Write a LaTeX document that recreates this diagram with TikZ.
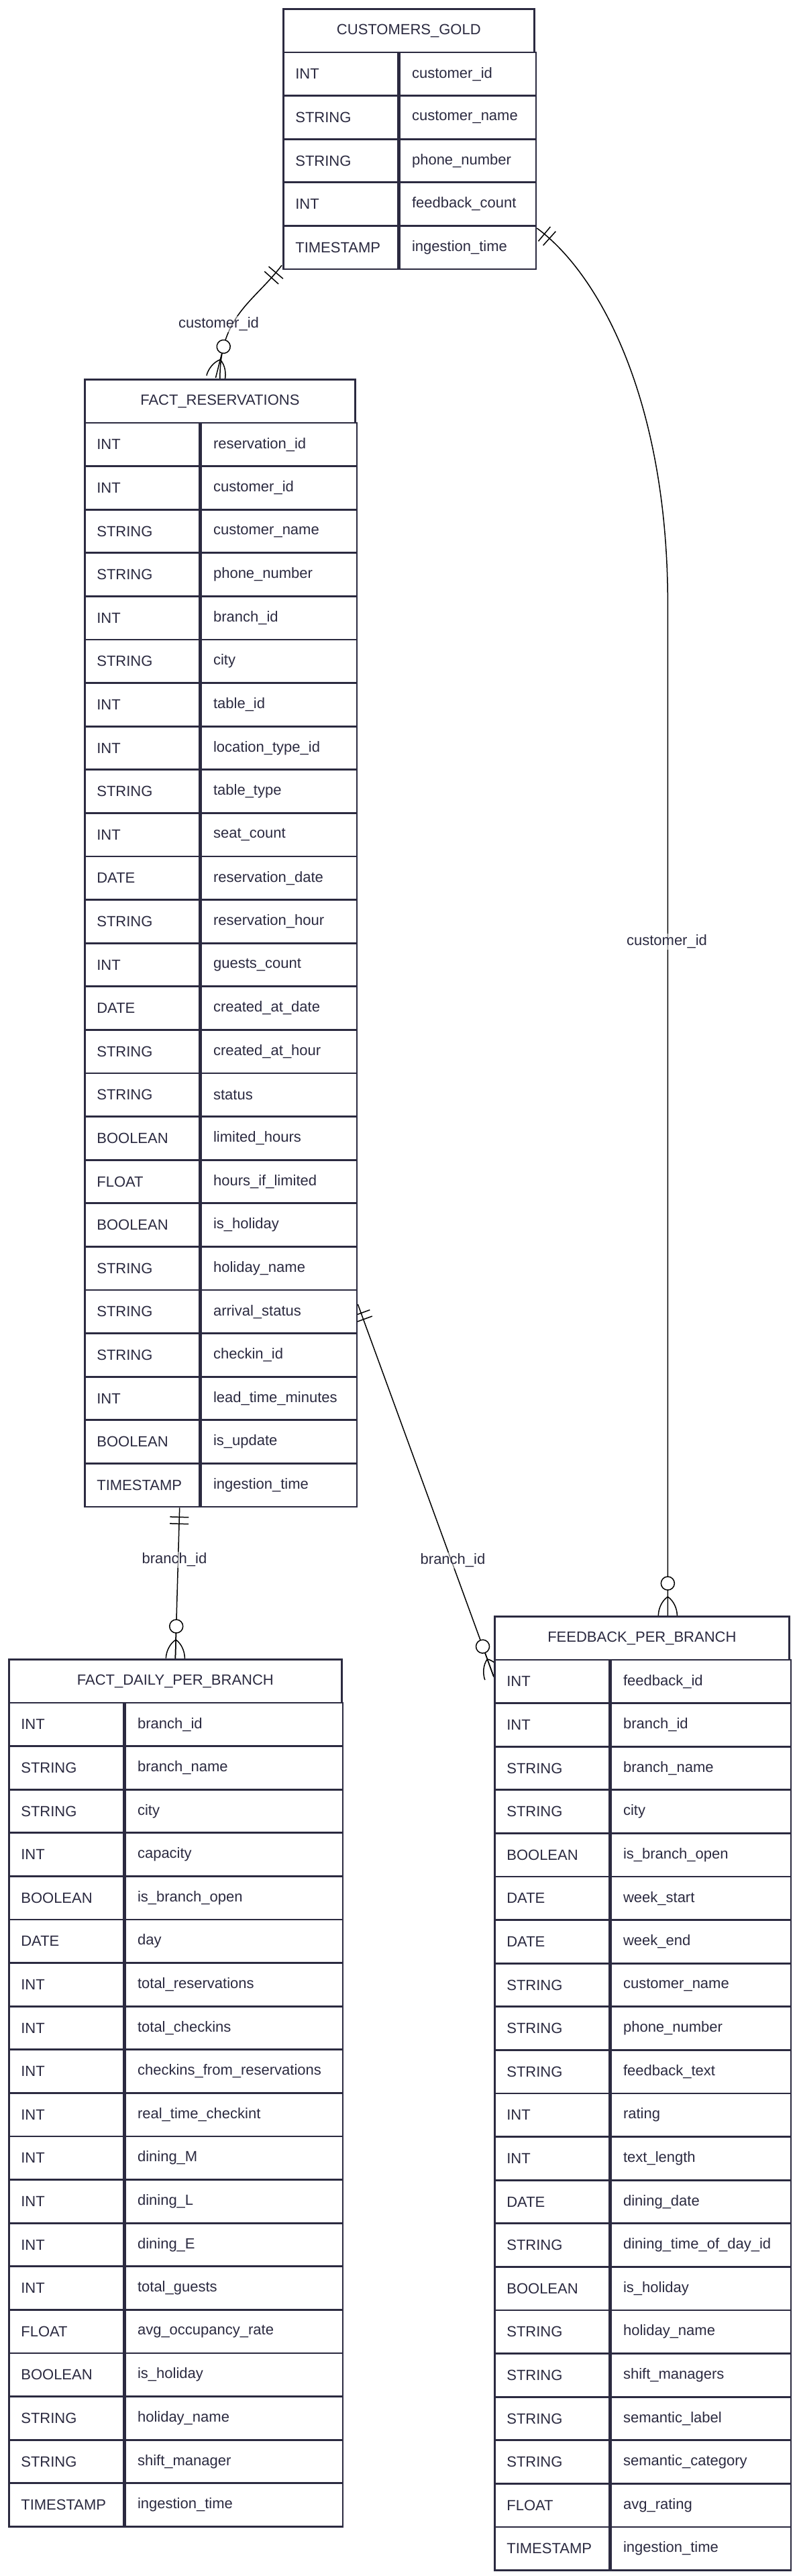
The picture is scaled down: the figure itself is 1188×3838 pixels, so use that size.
\documentclass[tikz,border=0pt]{standalone}
\usepackage{fontspec}
\setmainfont{Liberation Sans}
\usetikzlibrary{positioning, calc, backgrounds, decorations.markings}
\definecolor{erline}{HTML}{2B2A40}
\definecolor{erink}{HTML}{2B2A40}

\begin{document}
\begin{tikzpicture}[
    x=0.5pt, y=-0.5pt,
    font=\fontsize{11pt}{13pt}\selectfont,
    every node/.style={text=erink},
    hdr/.style={draw=erline, line width=1.35pt, fill=white, anchor=north west, minimum height=32.3pt, inner sep=0pt},
    typecell/.style={draw=erline, line width=1.35pt, fill=white, anchor=north west, minimum height=32.3pt, inner xsep=9pt, inner ysep=0pt, text width=67.5pt, align=left},
    namecell/.style={draw=erline, line width=1.35pt, fill=white, minimum height=32.3pt, inner xsep=9pt, inner ysep=0pt, text width=#1, align=left},
    relline/.style={draw=black, line width=0.75pt},
    lbl/.style={fill=white, fill opacity=0.5, text opacity=1, inner sep=1pt},
    onlyone/.style={postaction={decorate, decoration={markings,
        mark=at position 7pt with {\draw[relline] (0,-7pt) -- (0,7pt);},
        mark=at position 12pt with {\draw[relline] (0,-7pt) -- (0,7pt);}}}},
    zeromany/.style={postaction={decorate, decoration={markings,
        mark=at position -24pt with {
          \draw[relline, fill=white] (0,0) circle (5pt);
          \draw[relline] (5pt,0) -- (24pt,0);
          \draw[relline] (10pt,0) .. controls (13pt,4.5pt) and (19pt,7pt) .. (24pt,7pt);
          \draw[relline] (10pt,0) .. controls (13pt,-4.5pt) and (19pt,-7pt) .. (24pt,-7pt);}}}}
]
\useasboundingbox (0,0) rectangle (1188,3838);

\node[hdr, minimum width=187pt] (cg) at (421,12) {CUSTOMERS\_GOLD};
\foreach \ty/\fld [count=\i] in {INT/customer\_id, STRING/customer\_name, STRING/phone\_number,
    INT/feedback\_count, TIMESTAMP/ingestion\_time}{
  \node[typecell] (cg-t\i) at (421,12+\i*64.6) {\ty};
  \node[namecell=83.5pt, right=0pt of cg-t\i] (cg-n\i) {\fld};
}

\node[hdr, minimum width=201.5pt] (fr) at (125,564) {FACT\_RESERVATIONS};
\foreach \ty/\fld [count=\i] in {INT/reservation\_id, INT/customer\_id, STRING/customer\_name,
    STRING/phone\_number, INT/branch\_id, STRING/city, INT/table\_id, INT/location\_type\_id,
    STRING/table\_type, INT/seat\_count, DATE/reservation\_date, STRING/reservation\_hour,
    INT/guests\_count, DATE/created\_at\_date, STRING/created\_at\_hour, STRING/status,
    BOOLEAN/limited\_hours, FLOAT/hours\_if\_limited, BOOLEAN/is\_holiday, STRING/holiday\_name,
    STRING/arrival\_status, STRING/checkin\_id, INT/lead\_time\_minutes, BOOLEAN/is\_update,
    TIMESTAMP/ingestion\_time}{
  \node[typecell] (fr-t\i) at (125,564+\i*64.6) {\ty};
  \node[namecell=98pt, right=0pt of fr-t\i] (fr-n\i) {\fld};
}

\node[hdr, minimum width=248pt] (fd) at (12,2471) {FACT\_DAILY\_PER\_BRANCH};
\foreach \ty/\fld [count=\i] in {INT/branch\_id, STRING/branch\_name, STRING/city, INT/capacity,
    BOOLEAN/is\_branch\_open, DATE/day, INT/total\_reservations, INT/total\_checkins,
    INT/checkins\_from\_reservations, INT/real\_time\_checkint, INT/dining\_M, INT/dining\_L,
    INT/dining\_E, INT/total\_guests, FLOAT/avg\_occupancy\_rate, BOOLEAN/is\_holiday,
    STRING/holiday\_name, STRING/shift\_manager, TIMESTAMP/ingestion\_time}{
  \node[typecell] (fd-t\i) at (12,2471+\i*64.6) {\ty};
  \node[namecell=144pt, right=0pt of fd-t\i] (fd-n\i) {\fld};
}

\node[hdr, minimum width=219.5pt] (fb) at (736,2407) {FEEDBACK\_PER\_BRANCH};
\foreach \ty/\fld [count=\i] in {INT/feedback\_id, INT/branch\_id, STRING/branch\_name, STRING/city,
    BOOLEAN/is\_branch\_open, DATE/week\_start, DATE/week\_end, STRING/customer\_name,
    STRING/phone\_number, STRING/feedback\_text, INT/rating, INT/text\_length, DATE/dining\_date,
    STRING/dining\_time\_of\_day\_id, BOOLEAN/is\_holiday, STRING/holiday\_name,
    STRING/shift\_managers, STRING/semantic\_label, STRING/semantic\_category, FLOAT/avg\_rating,
    TIMESTAMP/ingestion\_time}{
  \node[typecell] (fb-t\i) at (736,2407+\i*64.6) {\ty};
  \node[namecell=116pt, right=0pt of fb-t\i] (fb-n\i) {\fld};
}

\begin{pgfonlayer}{background}
\fill[white] (0,0) rectangle (1188,3838);
\draw[relline, onlyone, zeromany] ($(cg-t5.south west)+(-1,-7)$) .. controls +(-42,55) and +(0,-94) .. (fr.north);
\draw[relline, onlyone, zeromany] ($(cg-n5.north east)+(0,5)$) .. controls +(95,70) and +(0,-300) .. ($(fb.north)+(38.5,-1507)$) -- ($(fb.north)+(38.5,0)$);
\draw[relline, onlyone, zeromany] ($(fr-n21.east)+(0,-11)$) -- ($(fb-t1.west)+(0,-7)$);
\draw[relline, onlyone, zeromany] ($(fr-t25.south east)+(-31,0)$) -- (fd.north);
\end{pgfonlayer}

\node[lbl] (lcust1) at (326,483) {customer\_id};
\node[lbl] (lcust2) at (994,1403) {customer\_id};
\node[lbl] (lbr1) at (675,2325) {branch\_id};
\node[lbl] (lbr2) at (260,2324) {branch\_id};
\end{tikzpicture}
\end{document}
